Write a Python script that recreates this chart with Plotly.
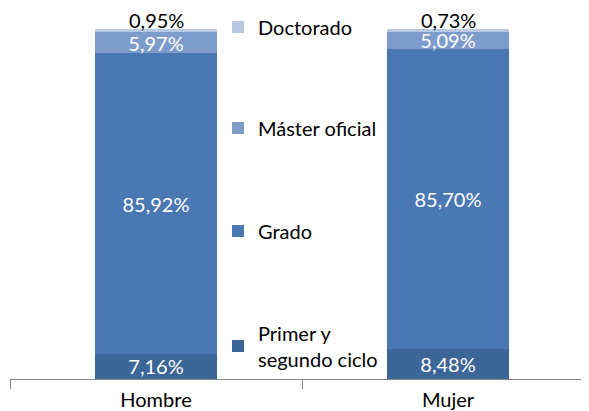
import plotly.graph_objects as go

categories = ["Hombre", "Mujer"]
primer = [7.16, 8.48]
grado = [85.92, 85.70]
master = [5.97, 5.09]
doctorado = [0.95, 0.73]

FONT = "Lato"
# the page body has an 8px default margin, so the figure is sized to fit the 589x411 window
OFF = 8
W, H = 589 - OFF, 411 - OFF

series = [
    ("Primer y<br>segundo ciclo", primer, "#3C6598", "legend4", 346),
    ("Grado", grado, "#4A78B3", "legend3", 231),
    ("Máster oficial", master, "#7D9BCB", "legend2", 128),
    ("Doctorado", doctorado, "#B9C9E3", "legend", 27),
]

fig = go.Figure()
layout_legends = {}
for name, vals, color, leg, ymid in series:
    is_top = name == "Doctorado"
    fig.add_trace(go.Bar(
        x=categories, y=vals, name=name,
        marker=dict(color=color, line=dict(width=0)),
        width=0.415,
        texttemplate=None if is_top else "%{y:.2f}%",
        textposition="none" if is_top else "inside",
        textangle=0,
        constraintext="none",
        insidetextanchor="middle",
        insidetextfont=dict(color="white", size=20, family=FONT),
        cliponaxis=False,
        legend=leg,
        hoverinfo="skip",
    ))
    layout_legends[leg] = dict(
        x=(218 - OFF) / W, xref="container", xanchor="left",
        y=1 - (ymid - OFF) / H, yref="container", yanchor="middle",
        font=dict(size=20, family=FONT, color="black"),
        bgcolor="rgba(0,0,0,0)",
        borderwidth=0,
    )

# labels of the thin top segment, placed just above each stack
for i, cat in enumerate(categories):
    total = round(primer[i] + grado[i] + master[i] + doctorado[i], 6)
    fig.add_annotation(
        x=cat, y=total, xref="x", yref="y",
        text=f"{doctorado[i]:.2f}".replace(".", ",") + "%",
        showarrow=False, yanchor="bottom", yshift=-5,
        font=dict(size=20, family=FONT, color="black"),
    )

fig.update_layout(
    width=W, height=H,
    barmode="stack",
    separators=",.",
    paper_bgcolor="white", plot_bgcolor="white",
    margin=dict(l=10 - OFF, r=0, t=29 - OFF, b=(411 - 379), autoexpand=False),
    font=dict(family=FONT, size=20, color="black"),
    showlegend=True,
    **layout_legends,
)
fig.update_xaxes(
    type="category",
    range=[-0.5, -0.5 + (589 - 10) / 292],
    tickson="boundaries",
    ticks="outside", ticklen=9, tickcolor="#868686", tickwidth=1,
    showline=True, linecolor="#868686", linewidth=1,
    showgrid=False,
    ticklabelstandoff=3,
    tickfont=dict(size=20, family=FONT, color="black"),
)
fig.update_yaxes(range=[0, 100.0001], visible=False, showgrid=False)

fig.write_html("out.html", config={"displayModeBar": False})
